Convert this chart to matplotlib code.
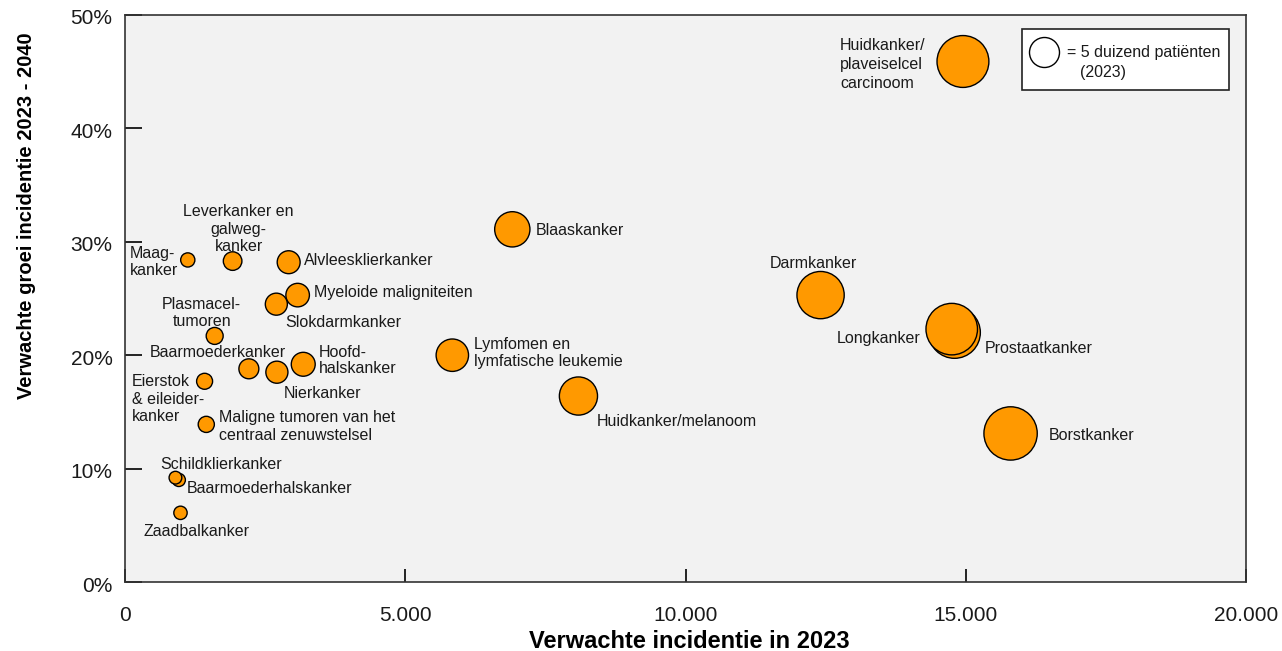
import matplotlib
matplotlib.use("Agg")
import matplotlib.pyplot as plt
from matplotlib.patches import Rectangle
import matplotlib.transforms as mtransforms
import numpy as np

plt.rcParams['font.family'] = ['Liberation Sans', 'DejaVu Sans']

# ---- data ----
labels = [
    "Huidkanker/\nplaveiselcel\ncarcinoom", "Blaaskanker", "Darmkanker", "Longkanker",
    "Prostaatkanker", "Borstkanker", "Lymfomen en\nlymfatische leukemie", "Huidkanker/melanoom",
    "Maag-\nkanker", "Leverkanker en\ngalweg-\nkanker", "Alvleesklierkanker",
    "Myeloide maligniteiten", "Slokdarmkanker", "Plasmacel-\ntumoren", "Baarmoederkanker",
    "Nierkanker", "Hoofd-\nhalskanker", "Eierstok\n& eileider-\nkanker",
    "Maligne tumoren van het\ncentraal zenuwstelsel", "Schildklierkanker",
    "Baarmoederhalskanker", "Zaadbalkanker",
]
incidence_2023 = [14950, 6910, 12410, 14750, 14800, 15800, 5840, 8090,
                  1120, 1920, 2920, 3080, 2700, 1600, 2210, 2710, 3180, 1420,
                  1450, 900, 960, 990]
growth_pct = [45.9, 31.1, 25.3, 22.3, 22.0, 13.1, 20.0, 16.4,
              28.4, 28.3, 28.2, 25.3, 24.5, 21.7, 18.8, 18.5, 19.2, 17.7,
              13.9, 9.2, 9.0, 6.1]
legend_value = 5000
x_ticks = [0, 5000, 10000, 15000, 20000]
x_ticklabels = ["0", "5.000", "10.000", "15.000", "20.000"]
y_ticks = [0, 10, 20, 30, 40, 50]
y_ticklabels = ["0%", "10%", "20%", "30%", "40%", "50%"]

# ---- layout of labels (pixel offsets from bubble centre, ha, linespacing) ----
label_layout = {
    "Huidkanker/\nplaveiselcel\ncarcinoom": (-123, -3, 'left', 1.35),
    "Blaaskanker": (23, -1, 'left', 1.2),
    "Darmkanker": (-7, 32, 'center', 1.2),
    "Longkanker": (-31, -9, 'right', 1.2),
    "Prostaatkanker": (30, -16, 'left', 1.2),
    "Borstkanker": (38, -2, 'left', 1.2),
    "Lymfomen en\nlymfatische leukemie": (22, 2, 'left', 1.2),
    "Huidkanker/melanoom": (18, -25, 'left', 1.2),
    "Maag-\nkanker": (-10, -2, 'right', 1.2),
    "Leverkanker en\ngalweg-\nkanker": (6, 32, 'center', 1.2),
    "Alvleesklierkanker": (15, 2, 'left', 1.2),
    "Myeloide maligniteiten": (16, 3, 'left', 1.2),
    "Slokdarmkanker": (9, -18, 'left', 1.2),
    "Plasmacel-\ntumoren": (-13, 23, 'center', 1.2),
    "Baarmoederkanker": (-31, 16, 'center', 1.2),
    "Nierkanker": (7, -21, 'left', 1.2),
    "Hoofd-\nhalskanker": (16, 4, 'left', 1.1),
    "Eierstok\n& eileider-\nkanker": (-73, -18, 'left', 1.2),
    "Maligne tumoren van het\ncentraal zenuwstelsel": (13, -2, 'left', 1.2),
    "Schildklierkanker": (-15, 13, 'left', 1.2),
    "Baarmoederhalskanker": (8, -9, 'left', 1.2),
    "Zaadbalkanker": (16, -19, 'center', 1.2),
}

ORANGE = '#ff9900'
LEG_DIAM_PX = 30.0
DPI = 100


def bubble_size(v):
    d_pt = LEG_DIAM_PX * np.sqrt(np.asarray(v, dtype=float) / legend_value) * 72.0 / DPI
    return d_pt ** 2


fig = plt.figure(figsize=(12.82, 6.51), dpi=DPI)
ax = fig.add_axes([125 / 1282, 1 - 582 / 651, 1121 / 1282, 567 / 651])
ax.set_facecolor('#f2f2f2')

order = np.argsort(incidence_2023)[::-1]
xs = np.array(incidence_2023, dtype=float)[order]
ys = np.array(growth_pct, dtype=float)[order]
ax.scatter(xs, ys, s=bubble_size(xs), c=ORANGE, edgecolors='black',
           linewidths=1.0, zorder=3)

for lab, xv, yv in zip(labels, incidence_2023, growth_pct):
    dx, dy, ha, ls = label_layout[lab]
    ax.annotate(lab, (xv, yv), xytext=(dx, dy), textcoords='offset pixels',
                ha=ha, va='center', fontsize=11.5, color='#1a1a1a',
                multialignment=('center' if ha == 'center' else 'left'),
                linespacing=ls, zorder=4)

ax.set_xlim(0, 20000)
ax.set_ylim(0, 50)
ax.set_xticks(x_ticks)
ax.set_xticklabels(x_ticklabels)
ax.set_yticks(y_ticks)
ax.set_yticklabels(y_ticklabels)
ax.tick_params(axis='x', direction='in', length=9.5, width=1.2, pad=17,
               labelsize=15, colors='black')
ax.tick_params(axis='y', direction='in', length=12.5, width=1.2, pad=9,
               labelsize=15, colors='black')
ax.tick_params(axis='both', labelcolor='#1a1a1a')
shift = mtransforms.ScaledTranslation(0, -4 / DPI, fig.dpi_scale_trans)
for lbl in ax.get_yticklabels():
    lbl.set_va('center')
    lbl.set_transform(lbl.get_transform() + shift)
for sp in ax.spines.values():
    sp.set_linewidth(1.2)
    sp.set_color('#333333')

ax.set_xlabel("Verwachte incidentie in 2023", fontsize=17, fontweight='bold')
ax.xaxis.set_label_coords(0.503, (582 - 641.5) / 567)
ax.xaxis.label.set_va('center')
ax.set_ylabel("Verwachte groei incidentie 2023 - 2040", fontsize=14.5, fontweight='bold')
ax.yaxis.set_label_coords((27 - 125) / 1121, (582 - 215.5) / 567)
ax.yaxis.label.set_va('center')

# legend box (manual)
def ax_px(px, py):
    return ((px - 125) / 1121, (582 - py) / 567)

bx0, by0 = ax_px(1022, 90)
bx1, by1 = ax_px(1229, 29)
ax.add_patch(Rectangle((bx0, by0), bx1 - bx0, by1 - by0, transform=ax.transAxes,
                       facecolor='white', edgecolor='#222222', linewidth=1.2, zorder=5))
cx, cy = ax_px(1044, 52)
ax.scatter([cx], [cy], s=bubble_size([legend_value]), transform=ax.transAxes,
           facecolor='white', edgecolor='black', linewidths=1.0, zorder=6, clip_on=False)
tx, ty = ax_px(1067, 53)
ax.text(tx, ty, "= 5 duizend patiënten", transform=ax.transAxes, fontsize=11.5,
        ha='left', va='center', color='#1a1a1a', zorder=7)
tx2, ty2 = ax_px(1080, 73)
ax.text(tx2, ty2, "(2023)", transform=ax.transAxes, fontsize=11.5,
        ha='left', va='center', color='#1a1a1a', zorder=7)

fig.savefig("out.png", dpi=DPI)
